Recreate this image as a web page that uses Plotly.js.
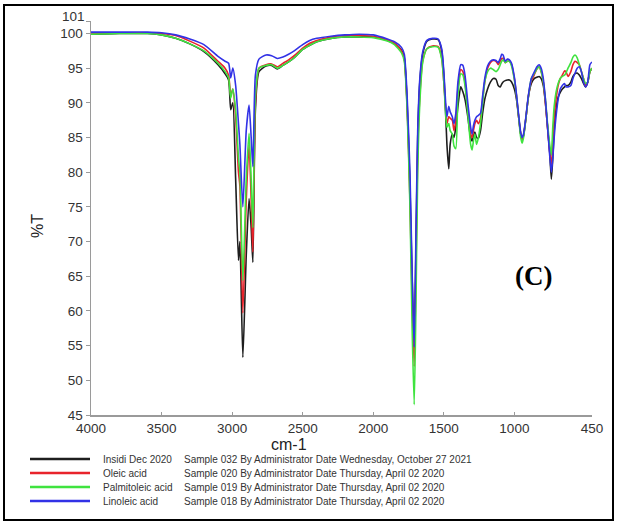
<!DOCTYPE html>
<html>
<head>
<meta charset="utf-8">
<script src="https://cdn.plot.ly/plotly-3.0.1.min.js"></script>
<style>
  html, body { margin: 0; padding: 0; background: #ffffff; }
  #chart { width: 617px; height: 525px; }
</style>
</head>
<body>
<div id="chart"></div>
<script>
// ---------------- DATA ----------------
const wavenumber = [
  4000, 3800, 3600, 3500, 3400, 3300, 3200, 3100, 3050, 3025,
  3010, 2995, 2975, 2955, 2945, 2924, 2900, 2880, 2865, 2853,
  2835, 2810, 2760, 2720, 2680, 2640, 2600, 2560, 2500, 2450,
  2400, 2300, 2200, 2100, 2000, 1900, 1850, 1800, 1780, 1760,
  1740, 1725, 1710, 1698, 1685, 1670, 1650, 1620, 1580, 1540,
  1515, 1500, 1490, 1478, 1465, 1455, 1440, 1428, 1415, 1400,
  1380, 1365, 1350, 1330, 1310, 1300, 1290, 1280, 1268, 1255,
  1240, 1225, 1210, 1190, 1170, 1150, 1130, 1115, 1100, 1090,
  1080, 1065, 1050, 1035, 1020, 1000, 985, 970, 955, 945,
  935, 920, 900, 880, 860, 840, 825, 810, 795, 780,
  765, 750, 738, 728, 718, 705, 690, 675, 660, 645,
  635, 620, 600, 585, 570, 555, 540, 525, 510, 495,
  480, 465, 450
];

const insidi = [
  99.9, 100.0, 100.0, 99.8, 99.3, 98.5, 97.4, 95.5, 94.2, 93.3,
  89.0, 90.0, 79.0, 67.3, 70.0, 53.3, 68.0, 76.2, 72.0, 67.0,
  89.0, 94.5, 95.3, 95.4, 94.9, 95.4, 95.9, 96.5, 97.7, 98.3,
  98.8, 99.3, 99.5, 99.5, 99.5, 99.0, 98.5, 97.6, 96.5, 90.0,
  78.0, 65.0, 56.0, 68.0, 85.0, 93.0, 97.0, 98.9, 99.2, 99.1,
  97.5, 94.0, 90.0, 84.0, 80.5, 84.0, 85.5, 85.0, 86.5, 89.5,
  92.3, 91.6, 90.5, 88.0, 85.0, 84.5, 85.2, 85.8, 85.0, 84.9,
  86.0, 88.5, 90.5, 92.0, 93.0, 93.5, 93.4, 92.5, 92.3, 92.7,
  93.0, 93.2, 93.3, 93.3, 93.0, 92.0, 90.5, 88.0, 85.5, 84.8,
  85.3, 87.5, 91.0, 92.8, 93.5, 93.7, 93.8, 93.5, 92.5, 90.0,
  86.5, 83.0, 79.0, 82.0, 86.0, 89.0, 90.8, 91.5, 92.0, 92.3,
  92.5, 92.5, 93.0, 93.8, 94.2, 94.3, 94.0, 93.5, 92.8, 92.3,
  93.0, 94.5, 95.0
];

const oleic = [
  100.1, 100.1, 100.1, 100.0, 99.7, 98.9, 97.9, 96.0, 95.0, 94.0,
  91.0, 92.0, 88.0, 80.0, 78.0, 59.7, 76.0, 84.0, 76.0, 68.5,
  90.0, 95.0, 95.5, 95.6, 95.2, 95.7, 96.2, 96.8, 97.9, 98.6,
  99.0, 99.5, 99.7, 99.7, 99.6, 99.1, 98.6, 97.5, 96.3, 89.5,
  76.0, 62.0, 52.0, 65.0, 83.0, 91.0, 96.0, 97.8, 98.2, 98.1,
  96.5, 93.0, 90.0, 87.0, 88.0, 87.8, 87.5, 86.0, 87.5, 92.0,
  94.8, 94.5, 93.0, 89.0, 85.5, 85.0, 86.0, 87.0, 87.5, 87.0,
  87.8, 90.5, 93.0, 95.0, 95.8, 96.1, 96.0, 95.5, 96.0, 96.4,
  96.4, 95.8, 96.0, 96.0, 95.5, 93.5, 91.0, 88.0, 85.5, 84.8,
  85.3, 87.5, 91.0, 93.2, 94.0, 94.9, 95.2, 94.5, 93.0, 90.0,
  86.5, 83.0, 81.0, 84.5, 88.0, 90.5, 92.5, 93.5, 94.0, 94.6,
  94.5, 93.8, 94.5, 95.5, 96.0, 95.8, 95.5, 94.5, 93.5, 92.5,
  93.0, 94.5, 95.0
];

const palmitoleic = [
  99.9, 100.0, 100.0, 99.8, 99.3, 98.5, 97.5, 95.7, 94.5, 93.6,
  90.7, 92.0, 89.0, 82.0, 80.0, 64.4, 79.0, 85.6, 79.0, 72.0,
  91.0, 95.0, 95.4, 95.5, 95.0, 95.4, 95.9, 96.5, 97.7, 98.3,
  98.8, 99.3, 99.5, 99.5, 99.4, 98.9, 98.4, 97.2, 96.0, 89.0,
  75.0, 58.0, 46.5, 60.0, 80.0, 90.0, 95.8, 97.8, 98.1, 98.0,
  96.3, 93.0, 89.5, 86.5, 87.0, 86.0, 85.5, 83.8, 83.4, 91.0,
  94.2, 94.0, 92.5, 88.5, 84.0, 83.2, 84.5, 85.5, 84.0, 85.0,
  87.0, 90.0, 93.0, 94.5, 95.0, 94.8, 94.5, 94.8, 95.5, 96.0,
  96.2, 95.8, 96.0, 96.0, 95.3, 93.3, 91.0, 88.0, 85.0, 84.2,
  85.0, 87.5, 91.0, 93.5, 94.2, 94.9, 95.2, 94.5, 93.0, 90.5,
  87.0, 84.0, 82.5, 86.5, 89.5, 91.5, 92.8, 93.5, 93.8, 94.0,
  94.3, 95.0, 95.8, 96.6, 96.9, 96.5, 95.5, 94.5, 93.5, 92.8,
  93.0, 94.5, 95.0
];

const linoleic = [
  100.2, 100.2, 100.2, 100.1, 99.8, 99.2, 98.4, 96.7, 96.0, 95.7,
  93.6, 95.0, 92.5, 87.0, 84.0, 75.0, 86.0, 89.7, 85.0, 80.8,
  94.0, 96.3, 96.9, 96.8, 96.4, 96.6, 97.0, 97.5, 98.4, 99.0,
  99.3, 99.6, 99.8, 99.9, 99.8, 99.2, 98.8, 98.0, 97.0, 91.0,
  80.0, 66.0, 54.8, 70.0, 86.0, 93.5, 97.3, 99.0, 99.3, 99.2,
  97.8, 94.5, 91.0, 88.0, 89.5, 88.7, 88.0, 87.0, 88.5, 93.0,
  95.5, 95.4, 94.0, 90.0, 86.5, 85.5, 86.7, 87.5, 88.0, 88.2,
  88.5, 91.0, 93.5, 95.3, 96.0, 96.2, 96.1, 95.8, 96.4, 97.0,
  96.9, 96.0, 96.3, 96.2, 95.7, 93.7, 91.2, 88.3, 85.7, 85.0,
  85.5, 87.7, 91.2, 93.5, 94.4, 95.2, 95.5, 95.0, 93.5, 90.5,
  86.5, 82.5, 80.0, 82.0, 85.0, 88.0, 90.5, 92.0, 92.5, 92.8,
  92.3, 92.3, 92.5, 93.5, 94.3, 95.0, 95.2, 94.5, 93.0, 92.3,
  93.0, 95.5, 95.9
];

const seriesNames = ["Insidi Dec 2020", "Oleic acid", "Palmitoleic acid", "Linoleic acid"];
const seriesInfo = [
  "Sample 032 By Administrator Date Wednesday, October 27 2021",
  "Sample 020 By Administrator Date Thursday, April 02 2020",
  "Sample 019 By Administrator Date Thursday, April 02 2020",
  "Sample 018 By Administrator Date Thursday, April 02 2020"
];
const seriesValues = [insidi, oleic, palmitoleic, linoleic];
const seriesColors = ["#1e1e1e", "#e8232b", "#3fe33f", "#3232e6"];

const xTickVals = [4000, 3500, 3000, 2500, 2000, 1500, 1000, 450];
const xTickText = ["4000", "3500", "3000", "2500", "2000", "1500", "1000", "450"];
const yTickVals = [45, 50, 55, 60, 65, 70, 75, 80, 85, 90, 95, 100, 101.8];
const yTickText = ["45", "50", "55", "60", "65", "70", "75", "80", "85", "90", "95", "100", ""];
const yTopLabel = "101";

// ---------------- LAYOUT HELPERS ----------------
const M = { l: 91, r: 25, t: 21, b: 110 };
const FW = 617, FH = 525;
const PW = FW - M.l - M.r, PH = FH - M.t - M.b;
const pxX = x => (x - M.l) / PW;
const pxY = y => (M.t + PH - y) / PH;
const tickFont = { family: "Liberation Sans, Arial, sans-serif", size: 13.5, color: "#333333" };
const legendFont = { family: "Liberation Sans, Arial, sans-serif", size: 10, color: "#333333" };

const traces = seriesValues.map((vals, i) => ({
  type: "scatter",
  mode: "lines",
  x: wavenumber,
  y: vals,
  name: seriesNames[i],
  line: { color: seriesColors[i], width: 1.6, shape: "spline", smoothing: 0.6 },
  hoverinfo: "skip",
  showlegend: false
}));

const shapes = [];
const annotations = [];
const legendRowY = [459, 473, 487, 501];

seriesNames.forEach((name, i) => {
  shapes.push({
    type: "line", xref: "paper", yref: "paper",
    x0: pxX(30), x1: pxX(90), y0: pxY(legendRowY[i]), y1: pxY(legendRowY[i]),
    line: { color: seriesColors[i], width: 2.4 }
  });
  annotations.push({
    xref: "paper", yref: "paper", x: pxX(101), y: pxY(legendRowY[i]),
    xanchor: "left", yanchor: "middle", showarrow: false,
    text: name, font: legendFont
  });
  annotations.push({
    xref: "paper", yref: "paper", x: pxX(182), y: pxY(legendRowY[i]),
    xanchor: "left", yanchor: "middle", showarrow: false,
    text: seriesInfo[i], font: legendFont
  });
});

// outer frame
shapes.push({
  type: "rect", xref: "paper", yref: "paper",
  x0: pxX(4), x1: pxX(613), y0: pxY(520), y1: pxY(5),
  line: { color: "#000000", width: 2 }, fillcolor: "rgba(0,0,0,0)"
});

// top tick label of the y axis (placed just above the "100" label)
annotations.push({
  xref: "paper", yref: "paper", x: pxX(87), y: pxY(17),
  xanchor: "right", yanchor: "middle", showarrow: false,
  text: yTopLabel, font: tickFont
});

annotations.push({
  xref: "paper", yref: "paper", x: pxX(289), y: pxY(444),
  xanchor: "center", yanchor: "middle", showarrow: false,
  text: "cm-1", font: { family: "Liberation Sans, Arial, sans-serif", size: 16, color: "#222222" }
});
annotations.push({
  xref: "paper", yref: "paper", x: pxX(37), y: pxY(226),
  xanchor: "center", yanchor: "middle", showarrow: false, textangle: -90,
  text: "%T", font: { family: "Liberation Sans, Arial, sans-serif", size: 16, color: "#222222" }
});
annotations.push({
  xref: "paper", yref: "paper", x: pxX(533), y: pxY(276),
  xanchor: "center", yanchor: "middle", showarrow: false,
  text: "<b>(C)</b>", font: { family: "Liberation Serif, Times New Roman, serif", size: 27, color: "#000000" }
});

const layout = {
  width: FW, height: FH,
  margin: M,
  paper_bgcolor: "#ffffff",
  plot_bgcolor: "#ffffff",
  showlegend: false,
  xaxis: {
    range: [4000, 450],
    tickmode: "array", tickvals: xTickVals, ticktext: xTickText,
    showgrid: false, zeroline: false,
    showline: true, linecolor: "#9a9a9a", linewidth: 1.5,
    ticks: "inside", ticklen: 3, tickcolor: "#9a9a9a",
    tickfont: tickFont
  },
  yaxis: {
    range: [45, 101.8],
    tickmode: "array", tickvals: yTickVals, ticktext: yTickText,
    showgrid: false, zeroline: false,
    showline: true, linecolor: "#9a9a9a", linewidth: 1.5,
    ticks: "outside", ticklen: 4, tickcolor: "#9a9a9a",
    tickfont: tickFont
  },
  shapes: shapes,
  annotations: annotations
};

Plotly.newPlot("chart", traces, layout, { staticPlot: true, displayModeBar: false });
</script>
</body>
</html>
